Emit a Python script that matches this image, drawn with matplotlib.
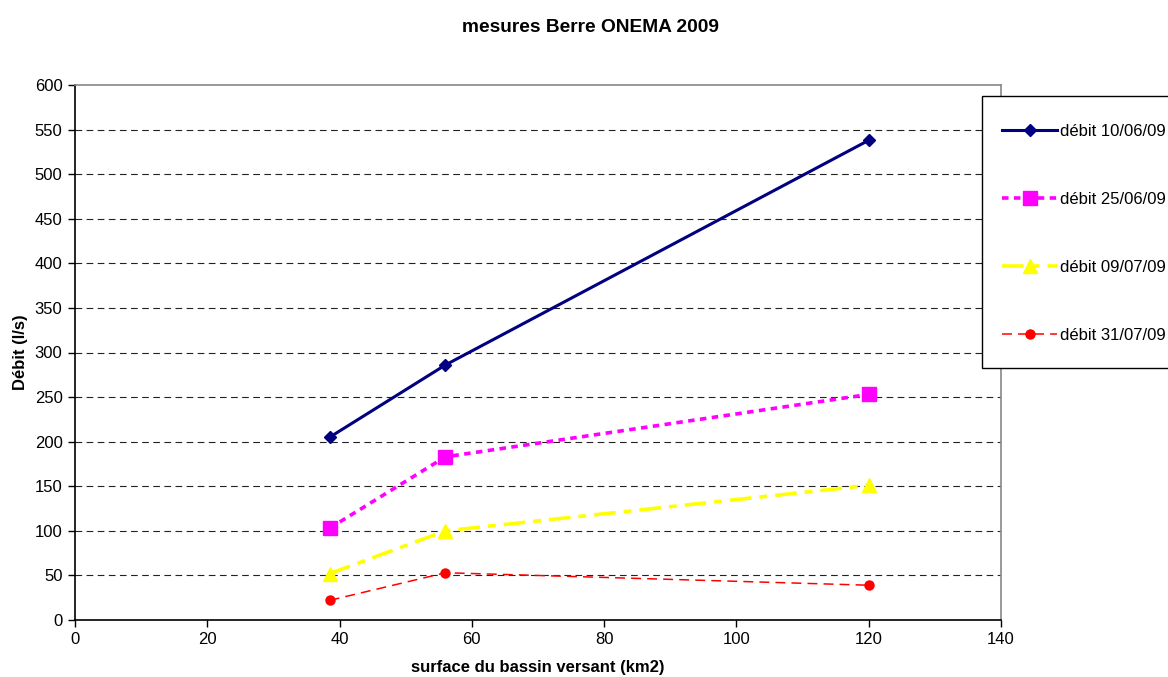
import matplotlib
matplotlib.use("Agg")
import matplotlib.pyplot as plt
from matplotlib.patches import Rectangle

plt.rcParams['font.family'] = ['Liberation Sans', 'DejaVu Sans']

surface = [38.5, 56.0, 120.0]
debit_1006 = [205, 286, 538]
debit_2506 = [103, 183, 253]
debit_0907 = [52, 100, 151]
debit_3107 = [22, 53, 39]
labels = ["débit 10/06/09", "débit 25/06/09", "débit 09/07/09", "débit 31/07/09"]
x_ticks = [0, 20, 40, 60, 80, 100, 120, 140]
y_ticks = list(range(0, 601, 50))

W, H = 1168, 677
fig = plt.figure(figsize=(W / 100, H / 100), dpi=100)
ax = fig.add_axes([75 / W, 1 - 620 / H, 926 / W, 535 / H])

ax.plot(surface, debit_1006, color="#000080", lw=2.2, marker="D", ms=6.5,
        label=labels[0], zorder=5)
ax.plot(surface, debit_2506, color="#FF00FF", lw=2.6, marker="s", ms=9.5,
        dashes=(1.8, 1.5), label=labels[1], zorder=5)
ax.plot(surface, debit_0907, color="#FFFF00", lw=2.6, marker="^", ms=9.5,
        dashes=(6.0, 2.2, 2.2, 2.2), label=labels[2], zorder=5)
ax.plot(surface, debit_3107, color="#FF0000", lw=1.1, marker="o", ms=6.5,
        dashes=(6.5, 4.0), label=labels[3], zorder=5)

for yv in y_ticks[1:-1]:
    ax.axhline(yv, color="#222222", lw=0.8, dashes=(6, 4), zorder=1)

ax.set_xlim(0, 140)
ax.set_ylim(0, 600)
ax.set_xticks(x_ticks)
ax.set_yticks(y_ticks)
ax.tick_params(direction="out", length=5, width=1, labelsize=12, color="black", pad=4)
for side in ("top", "right"):
    ax.spines[side].set_color("#888888")
    ax.spines[side].set_linewidth(1.2)
for side in ("left", "bottom"):
    ax.spines[side].set_color("black")
    ax.spines[side].set_linewidth(1.2)

ax.set_xlabel("surface du bassin versant (km2)", fontsize=12, fontweight="bold", labelpad=9)
ax.set_ylabel("Débit (l/s)", fontsize=12, fontweight="bold", labelpad=5)
fig.text(590 / W, 1 - 28 / H, "mesures Berre ONEMA 2009", ha="center", va="center",
         fontsize=13.8, fontweight="bold")

# legend frame, running off the right edge of the figure
frame = Rectangle((982 / W, 1 - 368 / H), 300 / W, 272 / H, transform=fig.transFigure,
                  facecolor="white", edgecolor="black", lw=1.0, zorder=3)
fig.patches.append(frame)

leg = fig.legend(loc="upper left", bbox_to_anchor=(1002 / W, 1 - 124 / H),
                 bbox_transform=fig.transFigure, fontsize=12, frameon=False,
                 numpoints=1, handlelength=3.3, handletextpad=0.2,
                 labelspacing=3.18, borderpad=0, borderaxespad=0)
leg.set_zorder(4)

fig.savefig("out.png", dpi=100, facecolor="white")
